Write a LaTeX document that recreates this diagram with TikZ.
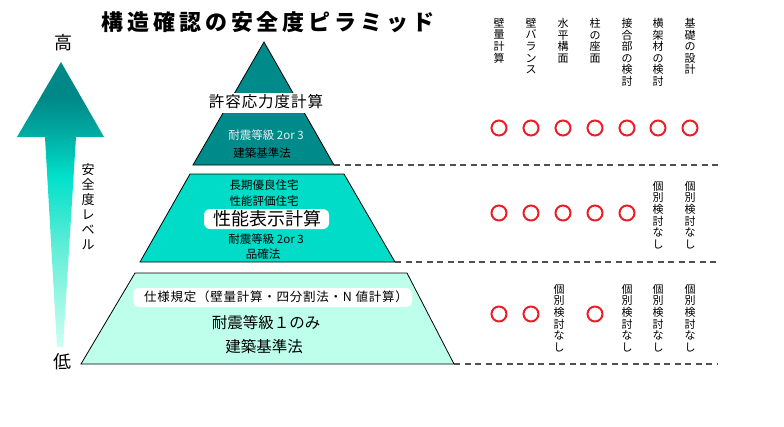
\documentclass[tikz,border=0pt]{standalone}
\usepackage{fontspec}
\setmainfont{Noto Sans CJK JP}
\newfontfamily\jp{Noto Sans CJK JP}
\newfontfamily\jpt[LetterSpace=18]{Noto Sans CJK JP}
\newfontfamily\jps[LetterSpace=6]{Noto Sans CJK JP}
\definecolor{cDark}{RGB}{0,139,139}
\definecolor{cMid}{RGB}{0,220,200}
\definecolor{cLight}{RGB}{190,255,235}
\definecolor{aDark}{RGB}{0,135,135}
\definecolor{aTeal}{RGB}{0,168,160}
\definecolor{aCyan}{RGB}{0,224,202}
\definecolor{aMidL}{RGB}{100,238,216}
\definecolor{aLight}{RGB}{205,255,242}
\definecolor{okred}{RGB}{232,32,40}
\definecolor{dashgray}{RGB}{80,80,80}
\pgfdeclareverticalshading{arrowshade}{100bp}{color(0bp)=(aLight); color(25bp)=(aLight); color(42bp)=(aMidL); color(55bp)=(aCyan); color(63bp)=(aTeal); color(69bp)=(aDark); color(75bp)=(aDark); color(100bp)=(aDark)}
\tikzset{
  ok/.style={circle, draw=okred, line width=2pt, minimum size=15pt, inner sep=0pt},
  vhead/.style={anchor=north, align=center, inner sep=0pt, font=\jp\fontsize{11}{11.6}\selectfont},
  vnone/.style={anchor=center, align=center, inner sep=0pt, font=\jp\fontsize{11}{11.6}\selectfont},
  levline/.style={draw=dashgray, line width=2pt, dash pattern=on 6pt off 4.5pt},
  tier/.style={draw=black, line width=0.8pt},
  pill/.style={fill=white, rounded corners=6pt},
}
\begin{document}
\begin{tikzpicture}[x=1pt,y=-1pt]
\useasboundingbox (0,0) rectangle (784,426);
% title
\node (title) at (268,22) {\jpt\bfseries\fontsize{22}{24}\selectfont 構造確認の安全度ピラミッド};
% arrow
\path[shading=arrowshade] (61,62) -- (104,137) -- (76,137) -- (63,347) -- (57,347) -- (45,137) -- (17,137) -- cycle;
\node (high) at (63,43) {\fontsize{18}{20}\selectfont 高};
\node (low) at (62,362) {\fontsize{18}{20}\selectfont 低};
\node[align=center, inner sep=0pt, font=\jp\fontsize{13}{15}\selectfont] (level) at (88,207) {安\\全\\度\\レ\\ベ\\ル};
% top tier
\coordinate (t1) at (264,42);
\coordinate (t1r) at (334,165);
\coordinate (t1l) at (193,165);
\filldraw[tier, fill=cDark] (t1) -- (t1r) -- (t1l) -- cycle;
\fill[white] (150,93) rectangle (380,113);
\node (kyoyo) at (266,102) {\jps\fontsize{15.5}{17}\selectfont 許容応力度計算};
\node[text={rgb,255:red,225;green,240;blue,240}] (g1) at (266,135) {\fontsize{11.5}{13}\selectfont 耐震等級 2or 3};
\node (k1) at (262,153) {\fontsize{11.5}{13}\selectfont 建築基準法};
% middle tier
\coordinate (m1) at (190,174);
\coordinate (m2) at (344,174);
\coordinate (m3) at (395,262);
\coordinate (m4) at (140,262);
\filldraw[tier, fill=cMid] (m1) -- (m2) -- (m3) -- (m4) -- cycle;
\node (choki) at (264,185) {\fontsize{11.5}{13}\selectfont 長期優良住宅};
\node (hyoka) at (264,201) {\fontsize{11.5}{13}\selectfont 性能評価住宅};
\fill[pill] (204,209) rectangle (329,229);
\node (seino) at (267,219) {\fontsize{18}{20}\selectfont 性能表示計算};
\node (g2) at (266,239) {\fontsize{11.5}{13}\selectfont 耐震等級 2or 3};
\node (hinkaku) at (263,254) {\fontsize{11.5}{13}\selectfont 品確法};
% bottom tier
\coordinate (b1) at (135,273);
\coordinate (b2) at (407,273);
\coordinate (b3) at (454,364);
\coordinate (b4) at (81,364);
\filldraw[tier, fill=cLight] (b1) -- (b2) -- (b3) -- (b4) -- cycle;
\fill[pill] (133,288) rectangle (412,307);
\node (shiyo) at (276,297) {\jps\fontsize{12.5}{14}\selectfont 仕様規定（壁量計算・四分割法・N 値計算）};
\node (g3) at (266,323) {\fontsize{15.5}{17}\selectfont 耐震等級１のみ};
\node (k3) at (264,347) {\fontsize{15.5}{17}\selectfont 建築基準法};
% level lines
\coordinate (e1) at (718,165);
\coordinate (e2) at (718,262);
\coordinate (e3) at (718,364);
\draw[levline] (t1r) -- (e1);
\draw[levline] (m3) -- (e2);
\draw[levline] (b3) -- (e3);
% headers
\node[vhead] (h1) at (499,18) {壁\\量\\計\\算};
\node[vhead] (h2) at (531,18) {壁\\バ\\ラ\\ン\\ス};
\node[vhead] (h3) at (563,18) {水\\平\\構\\面};
\node[vhead] (h4) at (595,18) {柱\\の\\座\\面};
\node[vhead] (h5) at (627,18) {接\\合\\部\\の\\検\\討};
\node[vhead] (h6) at (658,18) {横\\架\\材\\の\\検\\討};
\node[vhead] (h7) at (690,18) {基\\礎\\の\\設\\計};
% row 1
\foreach \x/\n in {499/1,531/2,563/3,595/4,627/5,658/6,690/7}
  \node[ok] (r1c\n) at (\x,128) {};
% row 2
\foreach \x/\n in {499/1,531/2,563/3,595/4,627/5}
  \node[ok] (r2c\n) at (\x,213) {};
\node[vnone] (r2c6) at (658,215) {個\\別\\検\\討\\な\\し};
\node[vnone] (r2c7) at (690,215) {個\\別\\検\\討\\な\\し};
% row 3
\foreach \x/\n in {499/1,531/2,595/4}
  \node[ok] (r3c\n) at (\x,314) {};
\node[vnone] (r3c3) at (559,318) {個\\別\\検\\討\\な\\し};
\node[vnone] (r3c5) at (627,318) {個\\別\\検\\討\\な\\し};
\node[vnone] (r3c6) at (658,318) {個\\別\\検\\討\\な\\し};
\node[vnone] (r3c7) at (690,318) {個\\別\\検\\討\\な\\し};
\end{tikzpicture}
\end{document}
